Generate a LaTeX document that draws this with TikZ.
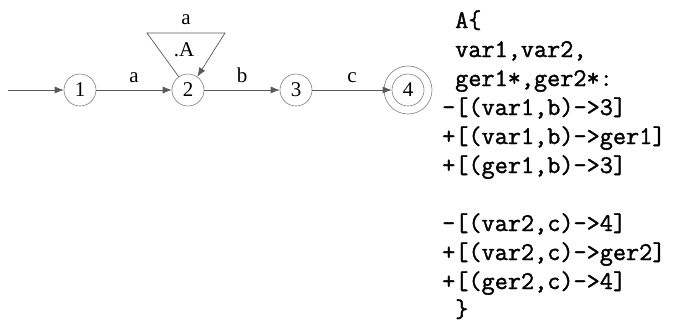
\documentclass[tikz,border=0pt]{standalone}
\usepackage{fontspec}
\setmainfont{Liberation Serif}
\newfontfamily\codefont[FakeBold=1.4]{Latin Modern Mono}
\usetikzlibrary{arrows.meta}

\begin{document}
\begin{tikzpicture}[
  x=1pt, y=-1pt,
  state/.style={circle, draw=black!50, line width=0.6pt, inner sep=0pt, minimum size=32pt, font=\fontsize{21}{21}\selectfont},
  trans/.style={draw=black!65, line width=0.7pt, -{Latex[length=9pt,width=7pt]}},
  tlabel/.style={font=\fontsize{21}{21}\selectfont, inner sep=1pt},
  code/.style={anchor=base west, inner sep=0pt, font=\codefont\fontsize{25.5}{29}\selectfont}
]
  \useasboundingbox (0,0) rectangle (698,322);

  % Zustaende
  \node[state] (n1) at (80,90) {1};
  \node[state] (n2) at (188,90) {2};
  \node[state] (n3) at (296,90) {3};
  \node[state] (n4) at (408,90) {4};
  \node[state, minimum size=48pt] (n4o) at (n4) {};
  \coordinate (start) at (8,90);
  \coordinate (tl) at (147,33);
  \coordinate (tr) at (225,33);

  % Uebergaenge
  \draw[trans] (start) -- (n1);
  \draw[trans] (n1) -- node[tlabel, above=6pt] {a} (n2);
  \draw[trans] (n2) -- node[tlabel, above=6pt] {b} (n3);
  \draw[trans] (n3) -- node[tlabel, above=6pt] {c} (n4);
  \draw[trans] (n2.125) -- (tl) -- node[tlabel, above=7pt] {a} (tr) -- (n2.55);
  \node[tlabel] (sub) at (184,50) {.A};

  % Ersetzung
  \node[code] (c1) at (455,28) {A\{};
  \node[code] (c2) at (455,57) {var1,var2,};
  \node[code] (c3) at (455,86) {ger1*,ger2*:};
  \node[code] (c4) at (442,115) {-[(var1,b)->3]};
  \node[code] (c5) at (442,144) {+[(var1,b)->ger1]};
  \node[code] (c6) at (442,173) {+[(ger1,b)->3]};
  \node[code] (c7) at (442,231) {-[(var2,c)->4]};
  \node[code] (c8) at (442,260) {+[(var2,c)->ger2]};
  \node[code] (c9) at (442,289) {+[(ger2,c)->4]};
  \node[code] (c10) at (455,317) {\}};
\end{tikzpicture}
\end{document}
